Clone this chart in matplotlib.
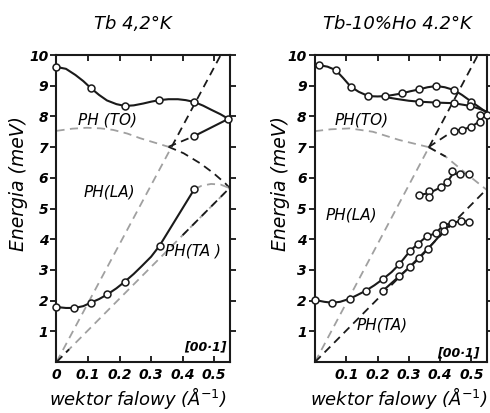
import numpy as np
import matplotlib
matplotlib.use('Agg')
import matplotlib.pyplot as plt

plt.rcParams['font.family'] = ['DejaVu Sans']
plt.rcParams['mathtext.default'] = 'it'

CZARNY = '#1a1a1a'
SZARY = '#a0a0a0'

# --- Tb 4,2 K (lewy panel) ---
# punkty pomiarowe
tb_to_x = [0.0, 0.108, 0.217, 0.326, 0.437, 0.545]
tb_to_y = [9.61, 8.93, 8.34, 8.53, 8.47, 7.92]
tb_to2_x = [0.437]
tb_to2_y = [7.36]
tb_ta_x = [0.0, 0.057, 0.108, 0.161, 0.217, 0.327, 0.437]
tb_ta_y = [1.79, 1.76, 1.93, 2.20, 2.62, 3.79, 5.63]

# linie prowadzace
tb_to_lx = [0.0, 0.03, 0.06, 0.085, 0.108, 0.135, 0.16, 0.19, 0.217, 0.245, 0.275,
            0.30, 0.326, 0.355, 0.385, 0.41, 0.437, 0.465, 0.49, 0.52, 0.545]
tb_to_ly = [9.61, 9.55, 9.35, 9.15, 8.93, 8.70, 8.52, 8.40, 8.34, 8.36, 8.42,
            8.48, 8.53, 8.56, 8.56, 8.53, 8.47, 8.35, 8.22, 8.07, 7.92]
tb_ta_lx = [0.0, 0.03, 0.057, 0.085, 0.108, 0.135, 0.161, 0.19, 0.217, 0.245, 0.27,
            0.30, 0.327, 0.437]
tb_ta_ly = [1.79, 1.76, 1.76, 1.82, 1.93, 2.05, 2.20, 2.40, 2.62, 2.87, 3.12,
            3.43, 3.79, 5.63]
tb_la_x = [0.0, 0.05, 0.096, 0.14, 0.18, 0.225, 0.265, 0.31, 0.355]
tb_la_y = [7.53, 7.60, 7.63, 7.61, 7.56, 7.44, 7.29, 7.15, 7.01]
tb_la2_x = [0.355, 0.403, 0.456, 0.498, 0.535, 0.55]
tb_la2_y = [7.01, 6.80, 6.47, 6.15, 5.82, 5.66]
tb_luk_x = [0.437, 0.46, 0.49, 0.52, 0.55]
tb_luk_y = [5.63, 5.74, 5.80, 5.78, 5.66]

# --- Tb-10%Ho 4,2 K (prawy panel) ---
ho_to_x = [0.013, 0.066, 0.114, 0.171, 0.225, 0.278, 0.333, 0.388, 0.444, 0.50]
ho_to_y = [9.67, 9.51, 8.97, 8.66, 8.66, 8.75, 8.88, 8.99, 8.86, 8.48]
ho_tob_x = [0.333, 0.388, 0.444, 0.497, 0.55]
ho_tob_y = [8.48, 8.45, 8.43, 8.34, 8.05]
ho_to2_x = [0.444, 0.471, 0.50, 0.526, 0.526]
ho_to2_y = [7.54, 7.56, 7.67, 7.83, 8.05]
ho_sr_x = [0.333, 0.365, 0.365, 0.402, 0.423, 0.439, 0.463, 0.492]
ho_sr_y = [5.44, 5.58, 5.38, 5.69, 5.87, 6.23, 6.14, 6.14]
ho_ta_x = [0.0, 0.055, 0.111, 0.162, 0.217, 0.27, 0.304, 0.328, 0.358, 0.386,
           0.41, 0.439, 0.466, 0.492]
ho_ta_y = [2.02, 1.93, 2.06, 2.32, 2.70, 3.19, 3.62, 3.84, 4.10, 4.19,
           4.46, 4.52, 4.60, 4.57]
ho_tab_x = [0.217, 0.27, 0.304, 0.333, 0.36, 0.413]
ho_tab_y = [2.32, 2.80, 3.10, 3.38, 3.67, 4.28]

ho_to_lx = [0.0, 0.013, 0.04, 0.066, 0.09, 0.114, 0.14, 0.171, 0.20, 0.225, 0.25,
            0.278, 0.305, 0.333, 0.36, 0.388, 0.415, 0.444, 0.47, 0.50, 0.525, 0.55]
ho_to_ly = [9.70, 9.67, 9.62, 9.51, 9.25, 8.97, 8.80, 8.66, 8.65, 8.66, 8.70,
            8.75, 8.82, 8.88, 8.95, 8.99, 8.95, 8.86, 8.70, 8.48, 8.30, 8.12]
ho_tob_lx = [0.225, 0.26, 0.30, 0.333, 0.388, 0.444, 0.497, 0.525, 0.55]
ho_tob_ly = [8.63, 8.57, 8.51, 8.48, 8.45, 8.43, 8.34, 8.25, 8.15]
ho_to2_lx = [0.444, 0.471, 0.50, 0.526, 0.526, 0.55]
ho_to2_ly = [7.54, 7.56, 7.67, 7.83, 8.05, 8.10]
ho_sr_lx = [0.333, 0.365, 0.402, 0.423, 0.439, 0.463, 0.492]
ho_sr_ly = [5.44, 5.50, 5.69, 5.87, 6.10, 6.16, 6.14]
ho_ta_lx = [0.0, 0.03, 0.055, 0.08, 0.111, 0.135, 0.162, 0.19, 0.217, 0.245, 0.27,
            0.304, 0.328, 0.358, 0.386, 0.41, 0.439, 0.466, 0.492]
ho_ta_ly = [2.02, 1.96, 1.93, 1.96, 2.06, 2.18, 2.32, 2.50, 2.70, 2.93, 3.19,
            3.62, 3.84, 4.10, 4.19, 4.46, 4.52, 4.60, 4.57]
ho_tab_lx = [0.217, 0.27, 0.304, 0.333, 0.36, 0.413, 0.43]
ho_tab_ly = [2.32, 2.80, 3.10, 3.38, 3.67, 4.28, 4.45]
ho_la_x = [0.0, 0.05, 0.111, 0.185, 0.27, 0.363]
ho_la_y = [7.52, 7.58, 7.61, 7.50, 7.23, 7.00]
ho_la2_x = [0.363, 0.418, 0.482, 0.55]
ho_la2_y = [7.00, 6.69, 6.15, 5.60]

# proste z poczatku ukladu (nachylenia)
nachylenie_la = 19.2
tb_ta_kon = [0.55, 5.68]
ho_ta_kon = [0.55, 5.64]

xticks = [0, 0.1, 0.2, 0.3, 0.4, 0.5]
yticks = [1, 2, 3, 4, 5, 6, 7, 8, 9, 10]

fig = plt.figure(figsize=(4.9, 4.13), dpi=100)
ax1 = fig.add_axes([0.1153, 0.1235, 0.354, 0.7433])
ax2 = fig.add_axes([0.6429, 0.1235, 0.351, 0.7433])

kresk = dict(dashes=(4.5, 3), lw=1.3)
marker = dict(marker='o', ms=5, mfc='white', mec=CZARNY, mew=1.1, ls='none',
              zorder=5, clip_on=False)


def ustaw_os(ax, etykiety_x, tytul, tx, yx):
    ax.set_xlim(0, 0.55)
    ax.set_ylim(0, 10)
    ax.set_xticks(xticks)
    ax.set_xticklabels(etykiety_x, fontsize=10, fontstyle='italic', fontweight='bold')
    ax.set_yticks(yticks)
    ax.set_yticklabels([str(v) for v in yticks], fontsize=10, fontstyle='italic',
                       fontweight='bold')
    ax.tick_params(axis='x', direction='in', top=True, length=4, width=1.2, pad=4)
    ax.tick_params(axis='y', left=True, right=True, length=4, width=1.2, pad=2,
                   direction='out')
    for s in ax.spines.values():
        s.set_linewidth(1.5)
        s.set_color(CZARNY)
    ax.set_ylabel('Energia (meV)', fontsize=13.5, fontstyle='italic')
    ax.yaxis.set_label_coords(yx, 0.58)
    ax.set_xlabel('wektor falowy (Å$^{-1}$)', fontsize=13, fontstyle='italic',
                  va='baseline')
    ax.xaxis.set_label_coords(tx, -0.14)
    ax.set_title(tytul, fontsize=13, fontstyle='italic', pad=19)


# lewy panel
ax = ax1
ax.plot(tb_to_lx, tb_to_ly, color=CZARNY, lw=1.5)
ax.plot([0.437, 0.545], [7.36, 7.92], color=CZARNY, lw=1.5)
ax.plot([0.355, 0.437], [7.01, 7.36], color=CZARNY, **kresk)
ax.plot(tb_ta_lx, tb_ta_ly, color=CZARNY, lw=1.5)
ax.plot(tb_la_x, tb_la_y, color=SZARY, **kresk)
ax.plot(tb_la2_x, tb_la2_y, color=CZARNY, **kresk)
ax.plot(tb_luk_x, tb_luk_y, color=SZARY, **kresk)
xs = 7.01 / nachylenie_la
ax.plot([0, xs], [0, 7.01], color=SZARY, **kresk)
ax.plot([xs, 10 / nachylenie_la], [7.01, 10], color=CZARNY, **kresk)
ax.plot([0, tb_ta_kon[0]], [0, tb_ta_kon[1]], color=SZARY, **kresk)
ax.plot([0, 0.04], [0, 0.04 * tb_ta_kon[1] / tb_ta_kon[0]], color=CZARNY, **kresk)
ax.plot([0.40, tb_ta_kon[0]], [0.40 * tb_ta_kon[1] / tb_ta_kon[0], tb_ta_kon[1]],
        color=CZARNY, **kresk)
ax.plot(tb_to_x, tb_to_y, **marker)
ax.plot(tb_to2_x, tb_to2_y, **marker)
ax.plot(tb_ta_x, tb_ta_y, **marker)
ax.text(0.068, 7.88, 'PH (TO)', fontsize=11, fontstyle='italic', va='center')
ax.text(0.085, 5.54, 'PH(LA)', fontsize=11, fontstyle='italic', va='center')
ax.text(0.345, 3.6, 'PH(TA )', fontsize=11, fontstyle='italic', va='center')
ax.text(0.54, 0.5, '[00·1]', fontsize=9, fontstyle='italic', fontweight='bold',
        va='center', ha='right')
ustaw_os(ax, ['0', '0.1', '0.2', '0.3', '0.4', '0.5'], 'Tb 4,2°K', 0.47, -0.165)
ax.title.set_position((0.44, 1.0))

# prawy panel
ax = ax2
ax.plot(ho_to_lx, ho_to_ly, color=CZARNY, lw=1.5)
ax.plot(ho_tob_lx, ho_tob_ly, color=CZARNY, lw=1.5)
ax.plot(ho_to2_lx, ho_to2_ly, color=CZARNY, lw=1.5)
ax.plot([0.363, 0.444], [7.0, 7.54], color=CZARNY, **kresk)
ax.plot(ho_sr_lx, ho_sr_ly, color=CZARNY, lw=1.5)
ax.plot(ho_ta_lx, ho_ta_ly, color=CZARNY, lw=1.5)
ax.plot(ho_tab_lx, ho_tab_ly, color=CZARNY, lw=1.5)
ax.plot(ho_la_x, ho_la_y, color=SZARY, **kresk)
ax.plot(ho_la2_x, ho_la2_y, color=SZARY, **kresk)
ax.plot(ho_la2_x[:2], ho_la2_y[:2], color=CZARNY, **kresk)
xs = 7.0 / nachylenie_la
ax.plot([0, xs], [0, 7.0], color=SZARY, **kresk)
ax.plot([xs, 10 / nachylenie_la], [7.0, 10], color=CZARNY, **kresk)
ax.plot([0, ho_ta_kon[0]], [0, ho_ta_kon[1]], color=CZARNY, **kresk)
ax.plot(ho_to_x, ho_to_y, **marker)
ax.plot(ho_tob_x, ho_tob_y, **marker)
ax.plot(ho_to2_x, ho_to2_y, **marker)
ax.plot(ho_sr_x, ho_sr_y, **marker)
ax.plot(ho_ta_x, ho_ta_y, **marker)
ax.plot(ho_tab_x, ho_tab_y, **marker)
ax.text(0.063, 7.88, 'PH(TO)', fontsize=11, fontstyle='italic', va='center')
ax.text(0.033, 4.79, 'PH(LA)', fontsize=11, fontstyle='italic', va='center')
ax.text(0.133, 1.2, 'PH(TA)', fontsize=11, fontstyle='italic', va='center')
ax.text(0.525, 0.3, '[00·1]', fontsize=9, fontstyle='italic', fontweight='bold',
        va='center', ha='right')
ustaw_os(ax, ['', '0.1', '0.2', '0.3', '0.4', '0.5'], 'Tb-10%Ho 4.2°K', 0.49, -0.145)
ax.title.set_position((0.477, 1.0))

fig.savefig('out.png', dpi=100)
